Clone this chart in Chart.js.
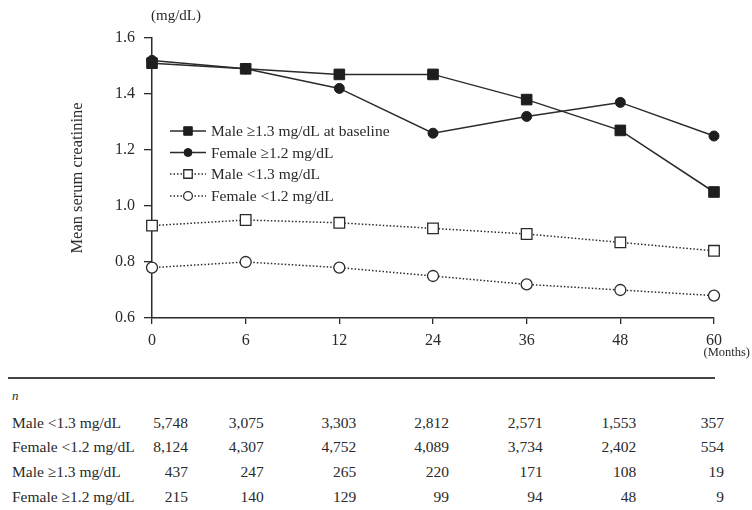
<!DOCTYPE html>
<html>
<head>
<meta charset="utf-8">
<script src="https://cdn.jsdelivr.net/npm/chart.js@4"></script>
<style>
  body { margin: 0; background: #fff; }
  #wrap { position: relative; width: 752px; height: 510px; overflow: hidden;
          font-family: "Liberation Serif", "DejaVu Serif", serif; color: #2a2a2a; }
  #chart { position: absolute; left: 0; top: 0; }
  #rule { position: absolute; left: 8px; top: 377px; width: 707px; height: 2px; background: #444; }
  .cell { position: absolute; font-size: 15.5px; line-height: 18px; white-space: nowrap; }
</style>
</head>
<body>
<div id="wrap">
  <canvas id="chart" width="752" height="370"></canvas>
  <div id="rule"></div>
  <div id="table"></div>
</div>
<script>
// months since baseline
const months = ["0", "6", "12", "24", "36", "48", "60"];

// mean serum creatinine (mg/dL)
const maleHigh = [1.51, 1.49, 1.47, 1.47, 1.38, 1.27, 1.05];
const femaleHigh = [1.52, 1.49, 1.42, 1.26, 1.32, 1.37, 1.25];
const maleLow = [0.93, 0.95, 0.94, 0.92, 0.90, 0.87, 0.84];
const femaleLow = [0.78, 0.80, 0.78, 0.75, 0.72, 0.70, 0.68];

const yTicks = [0.6, 0.8, 1.0, 1.2, 1.4, 1.6];

// number of patients at each time point
const rowLabels = ["Male <1.3 mg/dL", "Female <1.2 mg/dL", "Male \u22651.3 mg/dL", "Female \u22651.2 mg/dL"];
const nMaleLow = ["5,748", "3,075", "3,303", "2,812", "2,571", "1,553", "357"];
const nFemaleLow = ["8,124", "4,307", "4,752", "4,089", "3,734", "2,402", "554"];
const nMaleHigh = ["437", "247", "265", "220", "171", "108", "19"];
const nFemaleHigh = ["215", "140", "129", "99", "94", "48", "9"];

const ink = "#2b2b2b";
const serif = "'Liberation Serif', 'DejaVu Serif', serif";

// legend drawn inside the plot, line + marker sample like the original
const legendPlugin = {
  id: "insideLegend",
  afterDraw(chart) {
    const ctx = chart.ctx;
    const rows = [131, 152.5, 174, 196];
    chart.data.datasets.forEach((ds, i) => {
      const y = rows[i];
      ctx.save();
      ctx.strokeStyle = ds.borderColor;
      ctx.lineWidth = ds.borderWidth;
      ctx.setLineDash(ds.borderDash || []);
      ctx.beginPath();
      ctx.moveTo(170, y);
      ctx.lineTo(206, y);
      ctx.stroke();
      ctx.setLineDash([]);
      ctx.fillStyle = ds.pointBackgroundColor;
      ctx.strokeStyle = ds.pointBorderColor;
      ctx.lineWidth = ds.pointBorderWidth;
      Chart.helpers.drawPoint(ctx, {
        pointStyle: ds.pointStyle,
        radius: ds.pointRadius * 0.8,
        borderWidth: ds.pointBorderWidth,
        rotation: 0
      }, 188, y);
      ctx.fillStyle = "#2a2a2a";
      ctx.font = "15.5px " + serif;
      ctx.textBaseline = "middle";
      ctx.textAlign = "left";
      ctx.fillText(ds.label, 211, y + 1);
      ctx.restore();
    });

    // unit labels
    ctx.save();
    ctx.fillStyle = "#2a2a2a";
    ctx.font = "15px " + serif;
    ctx.textBaseline = "middle";
    ctx.textAlign = "left";
    ctx.fillText("(mg/dL)", 151, 16);
    ctx.font = "12.5px " + serif;
    ctx.textAlign = "right";
    ctx.fillText("(Months)", 750, 353);
    ctx.restore();
  }
};

const canvas = document.getElementById("chart");

const chart = new Chart(canvas.getContext("2d"), {
  type: "line",
  data: {
    labels: months,
    datasets: [
      {
        label: "Male \u22651.3 mg/dL at baseline",
        data: maleHigh,
        borderColor: ink,
        borderWidth: 1.5,
        pointStyle: "rect",
        pointRadius: 7.5,
        pointBackgroundColor: "#1e1e1e",
        pointBorderColor: "#1e1e1e",
        pointBorderWidth: 1
      },
      {
        label: "Female \u22651.2 mg/dL",
        data: femaleHigh,
        borderColor: ink,
        borderWidth: 1.5,
        pointStyle: "circle",
        pointRadius: 5,
        pointBackgroundColor: "#1e1e1e",
        pointBorderColor: "#1e1e1e",
        pointBorderWidth: 1
      },
      {
        label: "Male <1.3 mg/dL",
        data: maleLow,
        borderColor: ink,
        borderWidth: 1.5,
        borderDash: [1.5, 2],
        pointStyle: "rect",
        pointRadius: 7.5,
        pointBackgroundColor: "#fff",
        pointBorderColor: ink,
        pointBorderWidth: 1.3
      },
      {
        label: "Female <1.2 mg/dL",
        data: femaleLow,
        borderColor: ink,
        borderWidth: 1.5,
        borderDash: [1.5, 2],
        pointStyle: "circle",
        pointRadius: 5.5,
        pointBackgroundColor: "#fff",
        pointBorderColor: ink,
        pointBorderWidth: 1.3
      }
    ]
  },
  options: {
    responsive: false,
    animation: false,
    clip: false,
    layout: { padding: { top: 38, right: 38, left: 0, bottom: 0 } },
    plugins: {
      legend: { display: false },
      tooltip: { enabled: false }
    },
    elements: { line: { tension: 0 } },
    scales: {
      x: {
        type: "category",
        offset: false,
        afterFit: s => { s.height = 52; },
        grid: { drawOnChartArea: false, drawTicks: true, tickLength: 6, color: ink, lineWidth: 1.3 },
        border: { display: true, color: ink, width: 1.5 },
        ticks: { color: "#2a2a2a", font: { family: serif, size: 16 }, padding: 7, maxRotation: 0 }
      },
      y: {
        min: 0.6,
        max: 1.6,
        afterFit: s => { s.width = 152; },
        afterBuildTicks: s => { s.ticks = yTicks.map(v => ({ value: v })); },
        grid: { drawOnChartArea: false, drawTicks: true, tickLength: 8, color: ink, lineWidth: 1.3 },
        border: { display: true, color: ink, width: 1.5 },
        ticks: {
          color: "#2a2a2a",
          font: { family: serif, size: 16 },
          padding: 9,
          callback: v => Number(v).toFixed(1)
        },
        title: {
          display: true,
          text: "Mean serum creatinine",
          color: "#2a2a2a",
          font: { family: serif, size: 16.5 },
          padding: { top: 68, bottom: 0 }
        }
      }
    }
  },
  plugins: [legendPlugin]
});

// n table below the chart, columns follow the x scale
const table = document.getElementById("table");
const colShift = [36, 18, 17, 16, 16, 16, 10];
const rowTops = [414, 438, 463, 488];
const rowData = [nMaleLow, nFemaleLow, nMaleHigh, nFemaleHigh];

const nLabel = document.createElement("div");
nLabel.className = "cell";
nLabel.style.left = "12px";
nLabel.style.top = "387px";
nLabel.style.fontStyle = "italic";
nLabel.style.fontSize = "13px";
nLabel.textContent = "n";
table.appendChild(nLabel);

rowLabels.forEach((lab, r) => {
  const l = document.createElement("div");
  l.className = "cell";
  l.style.left = "12px";
  l.style.top = rowTops[r] + "px";
  l.textContent = lab;
  table.appendChild(l);
  rowData[r].forEach((val, c) => {
    const px = chart.scales.x.getPixelForValue(c) + colShift[c];
    const d = document.createElement("div");
    d.className = "cell";
    d.style.right = (752 - px) + "px";
    d.style.top = rowTops[r] + "px";
    d.textContent = val;
    table.appendChild(d);
  });
});
</script>
</body>
</html>
